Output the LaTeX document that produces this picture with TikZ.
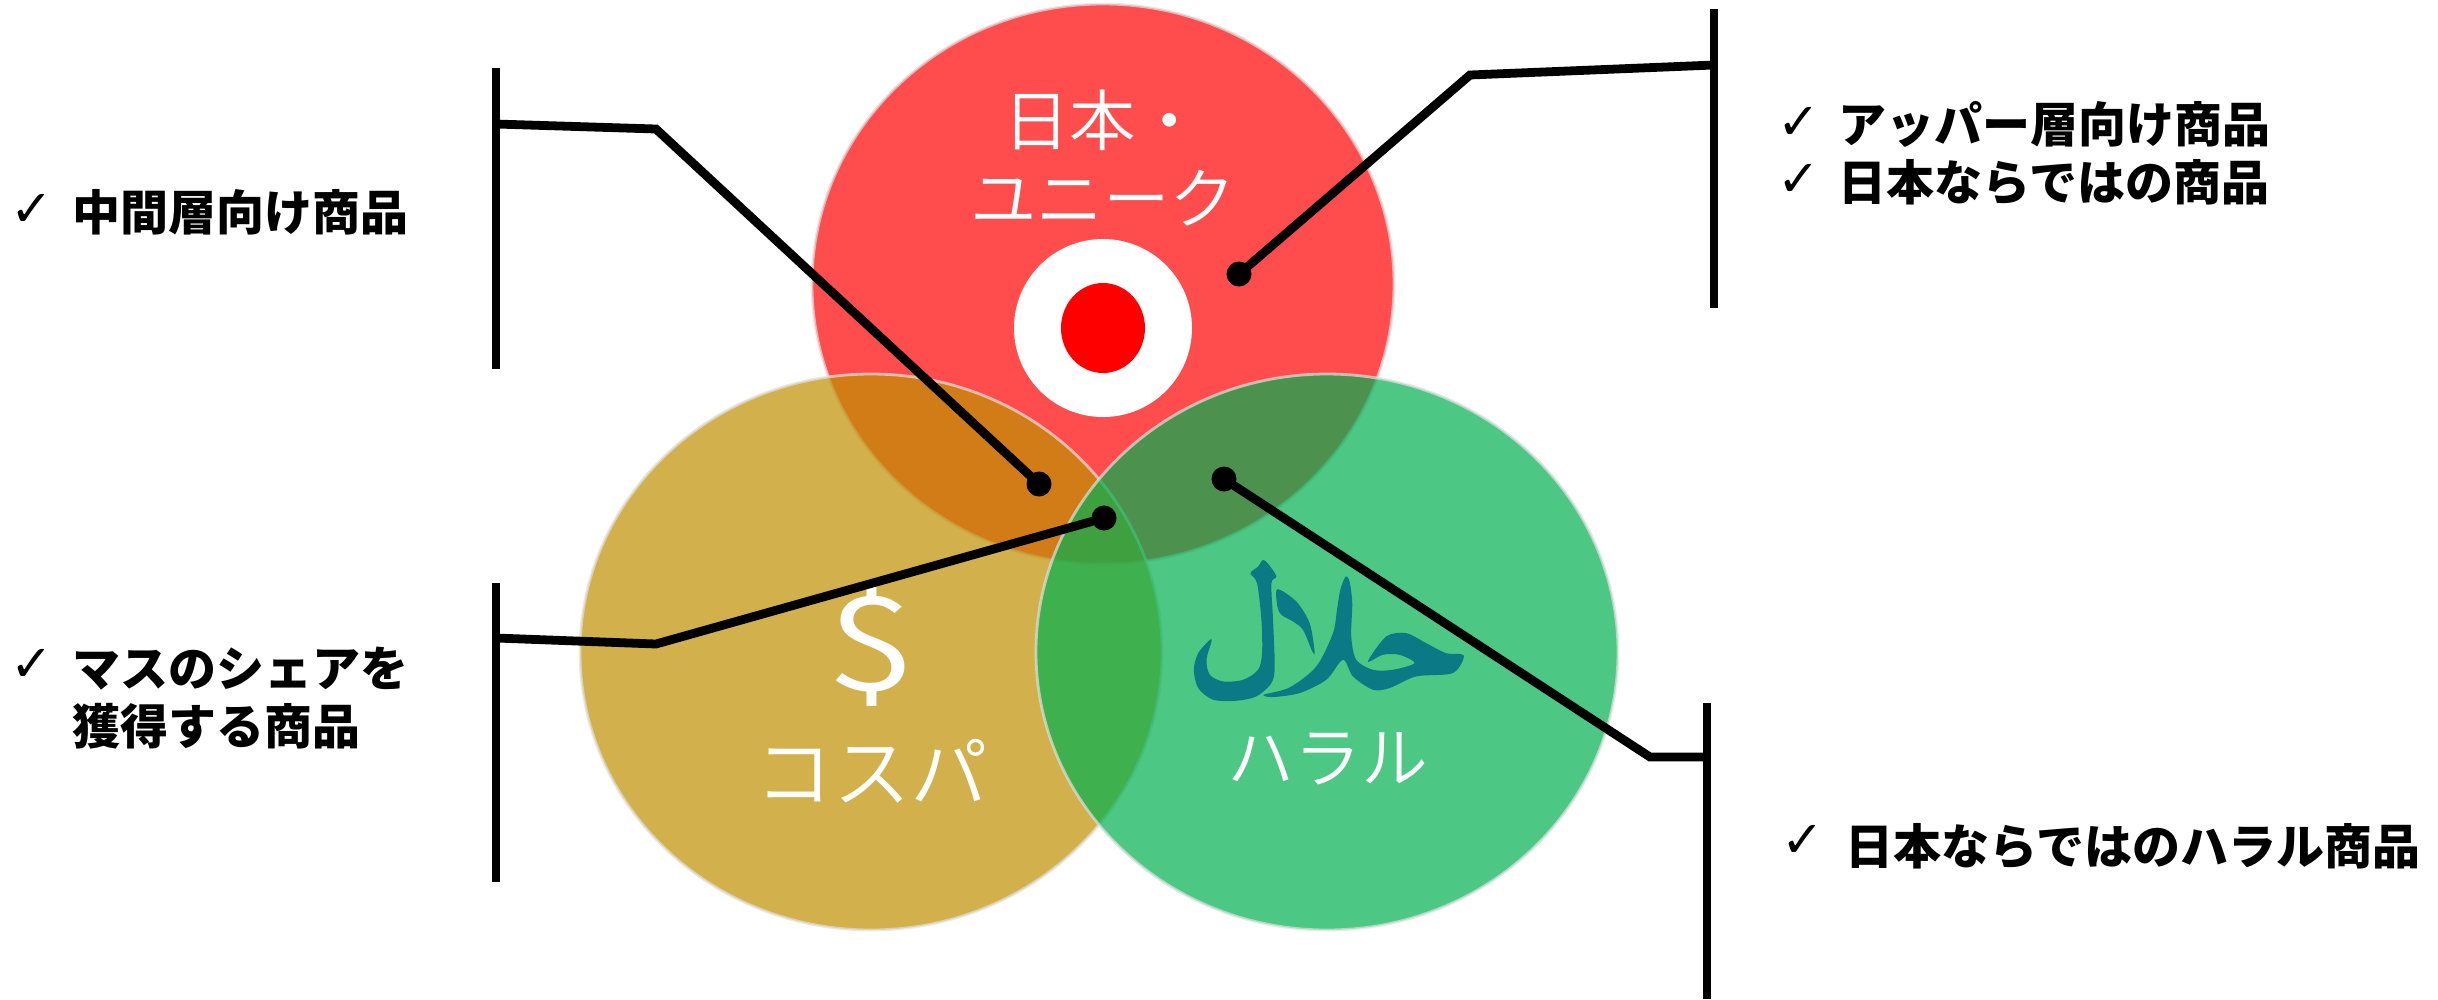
\documentclass[tikz,border=0pt]{standalone}
\usepackage{fontspec}
\newfontfamily\jpbold{Noto Sans CJK JP Black}
\newfontfamily\jplight{Noto Sans CJK JP DemiLight}
\newfontfamily\checkfont{DejaVu Sans}
\definecolor{uniqueRed}{HTML}{FF0000}
\definecolor{valueGold}{HTML}{BF9000}
\definecolor{halalGreen}{HTML}{00B050}
\definecolor{halalTeal}{HTML}{0B7A85}
\tikzset{
  venn/.style={fill opacity=0.7,draw=black!12,draw opacity=0.7,line width=0.8pt},
  lead/.style={line width=2.5pt,line join=miter},
  dotmark/.style={circle,fill=black,inner sep=0pt,minimum size=25*0.01cm},
  itemtext/.style={anchor=west,inner sep=0pt,font=\jpbold\fontsize{13.65}{16.4}\selectfont,align=left},
  checkmark/.style={inner sep=0pt,font=\checkfont\bfseries\fontsize{14.5}{14.5}\selectfont},
  venntext/.style={inner sep=0pt,text=white,align=center}
}
\begin{document}
\begin{tikzpicture}[x=0.01cm,y=-0.01cm]
\useasboundingbox (0,0) rectangle (2438,999);
%%%%% Circles %%%%%
\draw[venn,fill=uniqueRed] (1103,284) ellipse (291 and 280);
\draw[venn,fill=valueGold] (871,652) ellipse (291 and 278);
\draw[venn,fill=halalGreen] (1327,652) ellipse (291 and 278);
%%%%% Flag %%%%%
\fill[white] (1103,328) ellipse (89 and 89);
\fill[red] (1103,328) ellipse (42 and 45);
%%%%% Logo %%%%%
\begin{scope}[shift={(1100,520)},x=0.00333cm,y=-0.00333cm]
\fill[halalTeal] plot[smooth cycle,tension=0.5] coordinates {(738,170) (722,210) (712,270) (700,340) (650,440) (570,503) (492,525) (520,532) (600,520) (680,480) (730,420) (760,470) (820,510) (870,505) (950,470) (1060,460) (1093,407) (1040,400) (980,370) (920,340) (860,350) (805,425) (850,405) (900,405) (945,430) (880,450) (820,450) (770,420) (755,350) (758,250) (750,185)};
\fill[halalTeal] plot[smooth cycle,tension=0.5] coordinates {(490,120) (508,135) (530,170) (515,190) (520,300) (525,440) (515,490) (470,530) (410,543) (340,540) (295,505) (282,450) (295,400) (330,360) (335,365) (320,420) (330,465) (370,485) (430,480) (475,450) (487,400) (485,300) (472,190) (452,160) (475,140)};
\fill[halalTeal] plot[smooth cycle,tension=0.5] coordinates {(533,208) (590,245) (630,310) (645,395) (638,395) (610,330) (580,305) (545,285) (533,260)};
\end{scope}
%%%%% Circle labels %%%%%
\node[venntext,font=\jplight\fontsize{18.9}{22}\selectfont] (unique) at (1103,158) {日本・\\ユニーク};
\node[venntext,font=\jplight\fontsize{37}{37}\selectfont,xscale=1.25,transform shape] (dollar) at (871,644) {\$};
\node[venntext,font=\jplight\fontsize{22}{22}\selectfont] (cospa) at (872,771) {コスパ};
\node[venntext,font=\jplight\fontsize{19}{19}\selectfont] (halal) at (1328,759) {ハラル};
%%%%% Leaders %%%%%
\node[dotmark] (dotTL) at (1039,484) {};
\node[dotmark] (dotLL) at (1104,518) {};
\node[dotmark] (dotTR) at (1239,274) {};
\node[dotmark] (dotLR) at (1224,479) {};
\coordinate (barTLa) at (496,68);  \coordinate (barTLb) at (496,369);
\coordinate (barLLa) at (496,583); \coordinate (barLLb) at (496,882);
\coordinate (barTRa) at (1714,9);  \coordinate (barTRb) at (1714,308);
\coordinate (barLRa) at (1707,703); \coordinate (barLRb) at (1707,999);
\coordinate (kneeTLa) at (496,124); \coordinate (kneeTLb) at (656,129);
\coordinate (kneeLLa) at (496,638); \coordinate (kneeLLb) at (656,644);
\coordinate (kneeTRa) at (1714,65); \coordinate (kneeTRb) at (1470,75);
\coordinate (kneeLRa) at (1707,757); \coordinate (kneeLRb) at (1650,757);
\draw[lead] (barTLa)--(barTLb);
\draw[lead] (barLLa)--(barLLb);
\draw[lead] (barTRa)--(barTRb);
\draw[lead] (barLRa)--(barLRb);
\draw[lead] (kneeTLa)--(kneeTLb)--(dotTL.center);
\draw[lead] (kneeLLa)--(kneeLLb)--(dotLL.center);
\draw[lead] (kneeTRa)--(kneeTRb)--(dotTR.center);
\draw[lead] (kneeLRa)--(kneeLRb)--(dotLR.center);
%%%%% Lists %%%%%
\node[checkmark] (checkA) at (32,210) {✓};
\node[itemtext] (itemA) at (72,212) {中間層向け商品};
\node[checkmark] (checkB) at (32,665) {✓};
\node[itemtext] (itemB) at (72,698) {マスのシェアを\\獲得する商品};
\node[checkmark] (checkC) at (1799,123) {✓};
\node[itemtext] (itemC) at (1838,124) {アッパー層向け商品};
\node[checkmark] (checkD) at (1799,180) {✓};
\node[itemtext] (itemD) at (1838,182) {日本ならではの商品};
\node[checkmark] (checkE) at (1803,841) {✓};
\node[itemtext] (itemE) at (1845,846) {日本ならではのハラル商品};
\end{tikzpicture}
\end{document}
